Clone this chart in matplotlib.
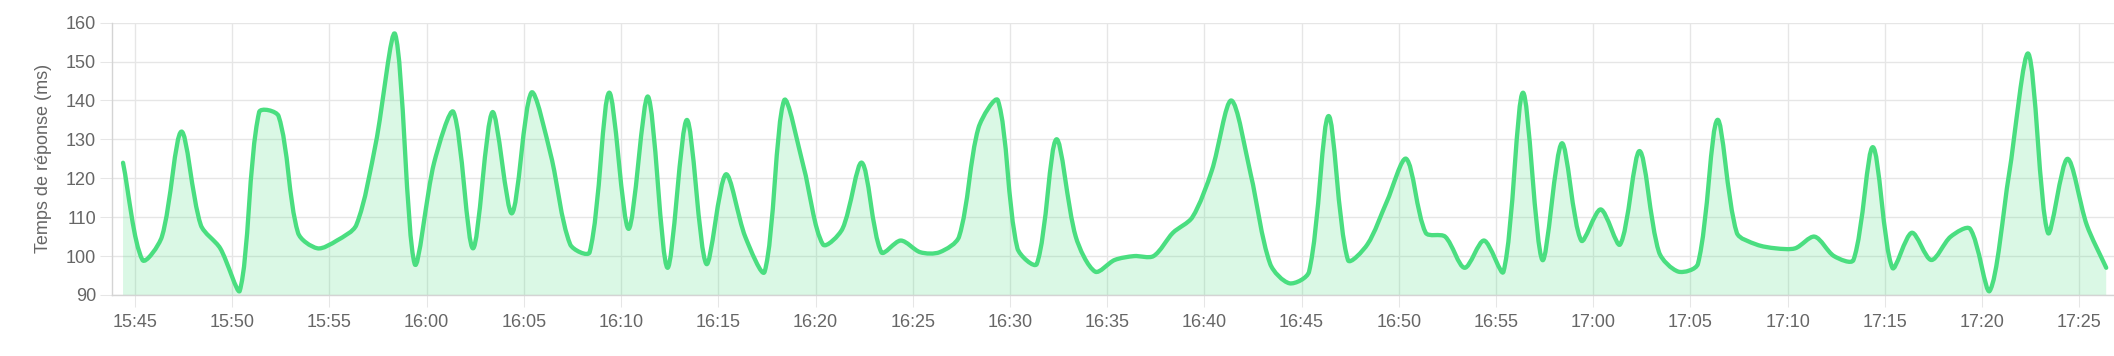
#!/usr/bin/env python3
# -*- coding: utf-8 -*-
#%% Imports
import numpy as np
import pandas as pd
import matplotlib
matplotlib.use('Agg')
import matplotlib.pyplot as plt
import matplotlib.dates as mdates
from matplotlib.path import Path
from matplotlib.patches import PathPatch

#%% Data (one point per minute)
debut = pd.Timestamp('2024-01-01 15:44:23')
temps_reponse = [124, 99, 105, 132, 108, 102, 91, 137, 136, 106,
                 102, 104, 108, 129, 157, 98, 124, 137, 102, 137,
                 111, 142, 126, 103, 101, 142, 107, 141, 97, 135,
                 98, 121, 105, 96, 140, 123, 103, 107, 124, 101,
                 104, 101, 101, 105, 133, 140, 102, 98, 130, 105,
                 96, 99, 100, 100, 106, 110, 122, 140, 121, 98,
                 93, 96, 136, 99, 103, 114, 125, 106, 105, 97,
                 104, 96, 142, 99, 129, 104, 112, 103, 127, 101,
                 96, 98, 135, 106, 103, 102, 102, 105, 100, 99,
                 128, 97, 106, 99, 105, 107, 91, 121, 152, 106,
                 125, 108, 97]
horodatage = pd.date_range(debut, periods=len(temps_reponse), freq='60s')
y_ticks = [90, 100, 110, 120, 130, 140, 150, 160]
x_ticks = pd.date_range('2024-01-01 15:45', '2024-01-01 17:25', freq='5min')
x_min = pd.Timestamp('2024-01-01 15:43:49')
x_max = pd.Timestamp('2024-01-01 17:26:47')

couleur_ligne = '#4ade80'
couleur_fond = (74/255, 222/255, 128/255, 0.2)
couleur_grille = '#e6e6e6'

plt.rcParams['font.family'] = ['Liberation Sans', 'DejaVu Sans']

#%% Chart.js-like spline
def courbe_spline(x, y, sx, sy, tension=0.3):
    px = np.asarray(x, dtype=float) * sx
    py = np.asarray(y, dtype=float) * sy
    n = len(px)
    cp_prev = np.zeros((n, 2))
    cp_next = np.zeros((n, 2))
    for i in range(n):
        a = max(i - 1, 0)
        b = min(i + 1, n - 1)
        d01 = np.hypot(px[i] - px[a], py[i] - py[a])
        d12 = np.hypot(px[b] - px[i], py[b] - py[i])
        tot = d01 + d12
        s01 = d01 / tot if tot else 0
        s12 = d12 / tot if tot else 0
        dx, dy = px[b] - px[a], py[b] - py[a]
        cp_prev[i] = (px[i] - tension * s01 * dx, py[i] - tension * s01 * dy)
        cp_next[i] = (px[i] + tension * s12 * dx, py[i] + tension * s12 * dy)
    verts = [(px[0], py[0])]
    codes = [Path.MOVETO]
    for i in range(n - 1):
        verts += [tuple(cp_next[i]), tuple(cp_prev[i + 1]), (px[i + 1], py[i + 1])]
        codes += [Path.CURVE4] * 3
    verts = np.array(verts)
    verts[:, 0] /= sx
    verts[:, 1] /= sy
    return verts, codes

#%% Figure
W, H = 2114, 356
fig = plt.figure(figsize=(W / 100, H / 100), dpi=100)
fig.patch.set_facecolor('white')
ax = fig.add_axes([112 / W, 1 - 295 / H, (W - 112) / W, (295 - 22.7) / H])

xlim = (mdates.date2num(x_min), mdates.date2num(x_max))
ax.set_xlim(xlim)
ax.set_ylim(90, 160)

sx = (W - 112) / (xlim[1] - xlim[0])
sy = (295 - 22.7) / 70.0
xs = mdates.date2num(horodatage)
verts, codes = courbe_spline(xs, temps_reponse, sx, sy)
verts[:, 1] = np.clip(verts[:, 1], 90, 160)
verts[:, 0] = np.clip(verts[:, 0], xlim[0], xlim[1])

# area under the curve
verts_fill = np.vstack([verts, [[xs[-1], 90], [xs[0], 90], [xs[0], 90]]])
codes_fill = codes + [Path.LINETO, Path.LINETO, Path.CLOSEPOLY]
ax.add_patch(PathPatch(Path(verts_fill, codes_fill), facecolor=couleur_fond,
                       edgecolor='none', zorder=2))
ax.add_patch(PathPatch(Path(verts, codes), facecolor='none', edgecolor=couleur_ligne,
                       lw=3.1, capstyle='round', joinstyle='round', zorder=3))

ax.set_yticks(y_ticks)
ax.set_xticks(mdates.date2num(x_ticks))
ax.xaxis.set_major_formatter(mdates.DateFormatter('%H:%M'))
ax.grid(True, color=couleur_grille, lw=1.0, zorder=0)
ax.set_axisbelow(True)
for s in ['top', 'right']:
    ax.spines[s].set_visible(False)
for s in ['left', 'bottom']:
    ax.spines[s].set_color('#d4d4d4')
    ax.spines[s].set_linewidth(1.0)
ax.tick_params(axis='both', length=8.6, width=0.75, color=couleur_grille,
               labelcolor='#666666', labelsize=13)
ax.tick_params(axis='x', pad=5)
ax.tick_params(axis='y', pad=3)

fig.text(44 / W, 1 - 158.8 / H, 'Temps de réponse (ms)', rotation=90,
         ha='center', va='center', fontsize=13, color='#666666')

fig.savefig('out.png', dpi=100)
